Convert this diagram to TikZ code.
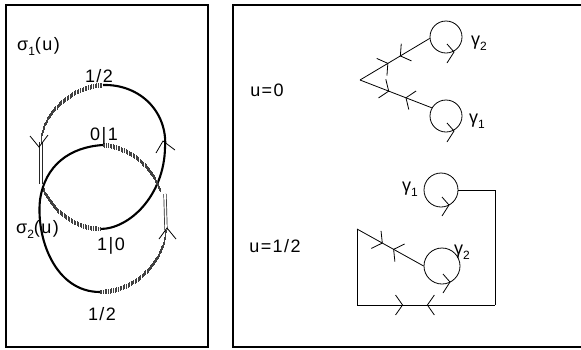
\documentclass[tikz,border=0pt]{standalone}
\usepackage{fontspec}
\setmainfont{Liberation Sans}[LetterSpace=8]
\usetikzlibrary{arrows.meta,decorations.markings}
\newcommand\lsub[1]{\raisebox{-5pt}{\fontsize{12}{12}\selectfont #1}}
\begin{document}
\begin{tikzpicture}[x=1pt,y=-1pt,
  frame/.style={line width=1.2pt},
  solidc/.style={line width=2.1pt},
  thinl/.style={line width=0.8pt},
  chev/.style={line width=0.8pt},
  hatched/.style={decorate,decoration={markings,mark=between positions 0 and 1 step 1.7pt with {\pgftransformresetnontranslations\fill[black!75] (-0.35pt,-2.4pt) rectangle (0.35pt,2.4pt);}}},
  dbl/.style={draw=black!85,double=white,double distance=1.8pt,line width=0.7pt},
  lbl/.style={font=\fontsize{18}{18}\selectfont,inner sep=0pt},
  loop/.style={circle,draw,line width=0.8pt,inner sep=0pt,minimum size=#1},
  pair/.style 2 args={postaction={decorate,decoration={markings,
     mark=at position #1 with {\draw[chev] (-7pt,10pt) -- (0pt,0pt) -- (-7pt,-10pt);},
     mark=at position #2 with {\draw[chev] (7pt,10pt) -- (0pt,0pt) -- (7pt,-10pt);}}}}
]
\useasboundingbox (0,0) rectangle (581,349);
% frames
\draw[frame] (6,5) rectangle (208,347);
\draw[frame] (581,5) -- (233,5) -- (233,347) -- (581,347);

% ---- left panel ----
\coordinate (ut) at (103,85);
\coordinate (ur) at (165,148);
\coordinate (x2) at (160,190);
\coordinate (ub) at (100,229);
\coordinate (x1) at (43,189);
\coordinate (ul1) at (41,184);
\coordinate (ul2) at (41,142);
\coordinate (lt) at (103,145);
\coordinate (ll) at (40,200);
\coordinate (lb) at (100,292);
\coordinate (lr1) at (166,230);
\coordinate (lr2) at (165,194);

% upper loop
\draw[solidc] (ut) .. controls (140,84) and (168,112) .. (ur)
  .. controls (164,195) and (130,229) .. (ub);
\path[hatched] (ub) .. controls (75,229) and (52,210) .. (x1);
\draw[dbl] (ul1) -- (ul2);
\path[hatched] (ul2) .. controls (42,115) and (70,87) .. (ut);
% lower loop
\draw[solidc] (lt) .. controls (70,147) and (45,165) .. (ll)
  .. controls (36,238) and (55,292) .. (lb);
\path[hatched] (lb) .. controls (135,292) and (164,262) .. (lr1);
\draw[dbl] (lr1) -- (lr2);
\path[hatched] (x2) .. controls (152,168) and (132,148) .. (lt);

% chevrons
\draw[chev] (30,136) -- (39,147) -- (48,135);
\draw[chev] (156,153) -- (163,141) -- (175,150);
\draw[chev] (159,239) -- (167,228) -- (176,239);

% labels
\node[lbl,anchor=west] (s1) at (17,46) {σ\lsub{1}(u)};
\node[lbl,anchor=west] (s2) at (16,229) {σ\lsub{2}(u)};
\node[lbl] (h1) at (99,76) {1/2};
\node[lbl] (p01) at (104,136) {0|1};
\node[lbl] (p10) at (111,246) {1|0};
\node[lbl] (h2) at (102,314) {1/2};

% ---- right panel, u = 0 ----
\node[lbl] (u0) at (267,90) {u=0};
\coordinate (v) at (360,80);
\node[loop=32pt] (g2a) at (446,37) {};
\node[loop=32pt] (g1a) at (446,116) {};
\draw[thinl,pair={0.4}{0.58}] (v) -- (g2a.185);
\draw[thinl,pair={0.4}{0.64}] (v) -- (g1a.150);
\draw[chev] (g2a.center) ++(1,7) -- ++(7,8) -- ++(-7,11);
\draw[chev] (g1a.center) ++(1,7) -- ++(7,8) -- ++(-7,11);
\node[lbl] (l2a) at (479,43) {γ\lsub{2}};
\node[lbl] (l1a) at (477,121) {γ\lsub{1}};

% ---- right panel, u = 1/2 ----
\node[lbl] (uh) at (275,246) {u=1/2};
\node[loop=34pt] (g1b) at (441,190) {};
\node[loop=36pt] (g2b) at (442,266) {};
\coordinate (c1) at (495,190);
\coordinate (c2) at (495,305);
\coordinate (c3) at (357,305);
\coordinate (c4) at (357,229);
\draw[thinl] (g1b.east) -- (c1) -- (c2);
\draw[thinl,pair={0.33}{0.51}] (c3) -- (c2);
\draw[thinl] (c3) -- (c4);
\draw[thinl,pair={0.38}{0.55}] (c4) -- (g2b.180);
\draw[chev] (g1b.center) ++(1,7) -- ++(7,8) -- ++(-7,11);
\draw[chev] (g2b.center) ++(1,8) -- ++(7,8) -- ++(-7,11);
\node[lbl] (l1b) at (410,189) {γ\lsub{1}};
\node[lbl] (l2b) at (462,252) {γ\lsub{2}};
\end{tikzpicture}
\end{document}
